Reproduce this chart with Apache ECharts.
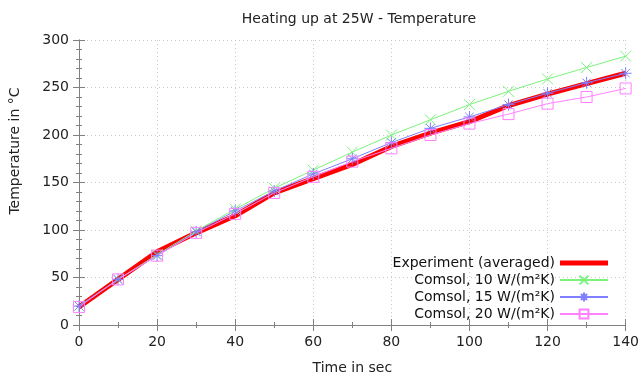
<!DOCTYPE html>
<html>
<head>
<meta charset="utf-8">
<script src="https://cdn.jsdelivr.net/npm/echarts@6/dist/echarts.min.js"></script>
<style>
  html, body { margin: 0; padding: 0; background: #fff; }
  #chart { width: 642px; height: 383px; }
</style>
</head>
<body>
<div id="chart"></div>
<script>
// time points (sec)
const times = [0, 10, 20, 30, 40, 50, 60, 70, 80, 90, 100, 110, 120, 130, 140]
// temperatures
const experiment = [19, 48, 77, 97, 115, 139, 154, 169, 188, 202, 214, 231, 243, 254, 265]
const comsol10 = [20, 48, 74, 99, 122, 144, 163, 182, 200, 216, 232, 246, 259, 271, 283]
const comsol15 = [20, 48, 73, 98, 120, 141, 159, 175, 192, 207, 219, 232, 244, 255, 265]
const comsol20 = [19, 48, 73, 97, 117, 139, 156, 172, 186, 200, 212, 222, 233, 240, 249]

const seriesNames = [
  'Experiment (averaged)',
  'Comsol, 10 W/(m²K)',
  'Comsol, 15 W/(m²K)',
  'Comsol, 20 W/(m²K)'
]

const pairs = arr => times.map((t, i) => [t, arr[i]])

const crossPath = 'path://M0,0L10,10M10,0L0,10'
const starPath = 'path://M5,0L5,10M0,5L10,5M1.5,1.5L8.5,8.5M8.5,1.5L1.5,8.5'
const squarePath = 'path://M0,0L10,0L10,10L0,10Z'

const font = 'DejaVu Sans'
const axisColor = '#808080'

const chart = echarts.init(document.getElementById('chart'))

function baseX (pos, show) {
  return {
    type: 'value',
    position: pos,
    min: 0,
    max: 140,
    interval: 20,
    axisLine: { show: true, lineStyle: { color: axisColor, width: 1 } },
    axisTick: { show: true, inside: true, length: 6, lineStyle: { color: axisColor } },
    minorTick: { show: true, splitNumber: 2, length: 3, lineStyle: { color: axisColor } },
    axisLabel: { show: show, color: '#222', fontFamily: font, fontSize: 14, margin: 10 },
    splitLine: { show: show, lineStyle: { color: '#c8c8c8', type: [1, 3] } }
  }
}

function baseY (pos, show) {
  return {
    type: 'value',
    position: pos,
    min: 0,
    max: 300,
    interval: 50,
    axisLine: { show: true, lineStyle: { color: axisColor, width: 1 } },
    axisTick: { show: true, inside: true, length: 6, lineStyle: { color: axisColor } },
    minorTick: { show: true, splitNumber: 5, length: 3, lineStyle: { color: axisColor } },
    axisLabel: { show: show, color: '#222', fontFamily: font, fontSize: 14, margin: 10 },
    splitLine: { show: show, lineStyle: { color: '#c8c8c8', type: [1, 3] } }
  }
}

const xBottom = Object.assign(baseX('bottom', true), {
  name: 'Time in sec',
  nameLocation: 'middle',
  nameGap: 36,
  nameTextStyle: { color: '#222', fontFamily: font, fontSize: 14 }
})

function comsolSeries (name, data, color, symbol, size) {
  return {
    name: name,
    type: 'line',
    data: pairs(data),
    symbol: symbol,
    symbolSize: size,
    showSymbol: true,
    lineStyle: { color: color, width: 1 },
    itemStyle: { color: 'rgba(0,0,0,0)', borderColor: color, borderWidth: 1 },
    emphasis: { disabled: true }
  }
}

const option = {
  animation: false,
  title: {
    text: 'Heating up at 25W - Temperature',
    left: 354,
    top: 7,
    textAlign: 'center',
    textStyle: { color: '#222', fontFamily: font, fontSize: 14, fontWeight: 'normal' }
  },
  // y axis title sits above the plot centre in the reference
  graphic: [
    {
      type: 'text',
      x: 15,
      y: 151,
      rotation: Math.PI / 2,
      style: {
        text: 'Temperature in °C',
        fill: '#222',
        font: '14px "DejaVu Sans"',
        textAlign: 'center',
        textVerticalAlign: 'middle'
      }
    }
  ],
  grid: { left: 79, right: 16, top: 40, bottom: 58 },
  legend: {
    right: 28,
    bottom: 57,
    orient: 'vertical',
    align: 'right',
    itemWidth: 48,
    itemHeight: 11,
    itemGap: 3,
    textStyle: { color: '#111', fontFamily: font, fontSize: 14 },
    data: [
      { name: seriesNames[0], icon: 'path://M0,0L48,0L48,5L0,5Z' },
      seriesNames[1],
      seriesNames[2],
      seriesNames[3]
    ]
  },
  xAxis: [xBottom, baseX('top', false)],
  yAxis: [baseY('left', true), baseY('right', false)],
  series: [
    {
      name: seriesNames[0],
      type: 'line',
      data: pairs(experiment),
      showSymbol: false,
      symbol: 'none',
      lineStyle: { color: '#ff0000', width: 5 },
      itemStyle: { color: '#ff0000' },
      emphasis: { disabled: true }
    },
    comsolSeries(seriesNames[1], comsol10, '#7cf27c', crossPath, 11),
    comsolSeries(seriesNames[2], comsol15, '#7f7fff', starPath, 12),
    comsolSeries(seriesNames[3], comsol20, '#ff80ff', squarePath, 11)
  ]
}

chart.setOption(option)
</script>
</body>
</html>
